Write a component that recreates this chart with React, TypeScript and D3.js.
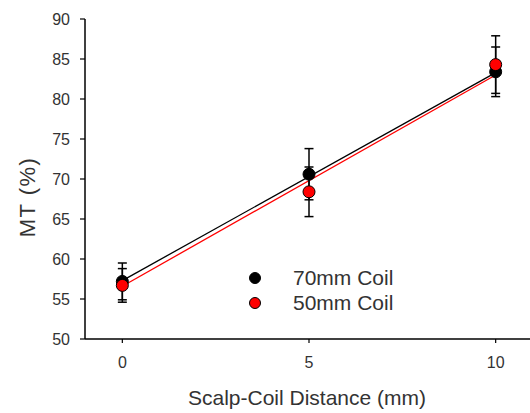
import React from "react";
import * as d3 from "d3";

const distances = [0, 5, 10];
const coil70 = [57.2, 70.6, 83.4];
const coil70Err = [2.3, 3.2, 3.1];
const coil50 = [56.7, 68.4, 84.3];
const coil50Err = [2.1, 3.1, 3.6];
// regression fits as drawn (intercept, slope)
const fitIntercepts = [57.3, 56.6];
const fitSlopes = [2.6, 2.64];
const xTicks = [0, 5, 10];
const yTicks = [50, 55, 60, 65, 70, 75, 80, 85, 90];
const seriesNames = ["70mm Coil", "50mm Coil"];
const seriesColors = ["#000000", "#ff0000"];

const W = 530;
const H = 413;
const font = "'Liberation Sans', Arial, sans-serif";

export default function App() {
  const x = d3.scaleLinear().domain([-1, 11]).range([85, 533]);
  const y = d3.scaleLinear().domain([50, 90]).range([339, 19]);
  const series = [
    { vals: coil70, err: coil70Err, color: seriesColors[0] },
    { vals: coil50, err: coil50Err, color: seriesColors[1] },
  ];
  return (
    <svg width={W} height={H} style={{ position: "absolute", left: 0, top: 0, background: "#fff" }} fontFamily={font}>
      <line x1={x(-1)} x2={x(-1)} y1={y(90)} y2={y(50)} stroke="#000" strokeWidth={1.5} />
      <line x1={x(-1)} x2={x(11)} y1={y(50)} y2={y(50)} stroke="#000" strokeWidth={1.5} />
      {yTicks.map((t) => (
        <g key={t}>
          <line x1={x(-1) - 5} x2={x(-1)} y1={y(t)} y2={y(t)} stroke="#000" strokeWidth={1.2} />
          <text x={70} y={y(t) + 6} textAnchor="end" fontSize={16} fill="#333">{t}</text>
        </g>
      ))}
      {xTicks.map((t) => (
        <g key={t}>
          <line x1={x(t)} x2={x(t)} y1={y(50)} y2={y(50) + 4} stroke="#000" strokeWidth={1.2} />
          <text x={x(t)} y={368} textAnchor="middle" fontSize={16} fill="#333">{t}</text>
        </g>
      ))}
      <text x={307} y={405} textAnchor="middle" fontSize={21} fill="#333">Scalp-Coil Distance (mm)</text>
      <text transform={`translate(35,197) rotate(-90)`} textAnchor="middle" fontSize={22} letterSpacing={1.5} fill="#333">MT (%)</text>
      {series.map((s, i) => (
        <path
          key={"l" + i}
          d={d3.line<number>().x((d) => x(d)).y((d) => y(fitIntercepts[i] + fitSlopes[i] * d))([0, 10])!}
          stroke={s.color}
          strokeWidth={1.3}
          fill="none"
        />
      ))}
      {series.map((s, i) => (
        <g key={"e" + i}>
          {distances.map((d, j) => {
            const top = y(s.vals[j] + s.err[j]);
            const bot = y(s.vals[j] - s.err[j]);
            return (
              <g key={j}>
                <line x1={x(d)} x2={x(d)} y1={top} y2={bot} stroke="#000" strokeWidth={1.5} />
                <line x1={x(d) - 4.5} x2={x(d) + 4.5} y1={top} y2={top} stroke="#000" strokeWidth={1.5} />
                <line x1={x(d) - 4.5} x2={x(d) + 4.5} y1={bot} y2={bot} stroke="#000" strokeWidth={1.5} />
              </g>
            );
          })}
        </g>
      ))}
      {series.map((s, i) => (
        <g key={"p" + i}>
          {distances.map((d, j) => (
            <circle key={j} cx={x(d)} cy={y(s.vals[j])} r={6} fill={s.color} stroke="#000" strokeWidth={1} />
          ))}
        </g>
      ))}
      {seriesNames.map((n, i) => (
        <g key={n}>
          <circle cx={255} cy={278 + i * 25} r={5.5} fill={seriesColors[i]} stroke="#000" strokeWidth={1} />
          <text x={293} y={285 + i * 25} fontSize={21} fill="#333">{n}</text>
        </g>
      ))}
    </svg>
  );
}
